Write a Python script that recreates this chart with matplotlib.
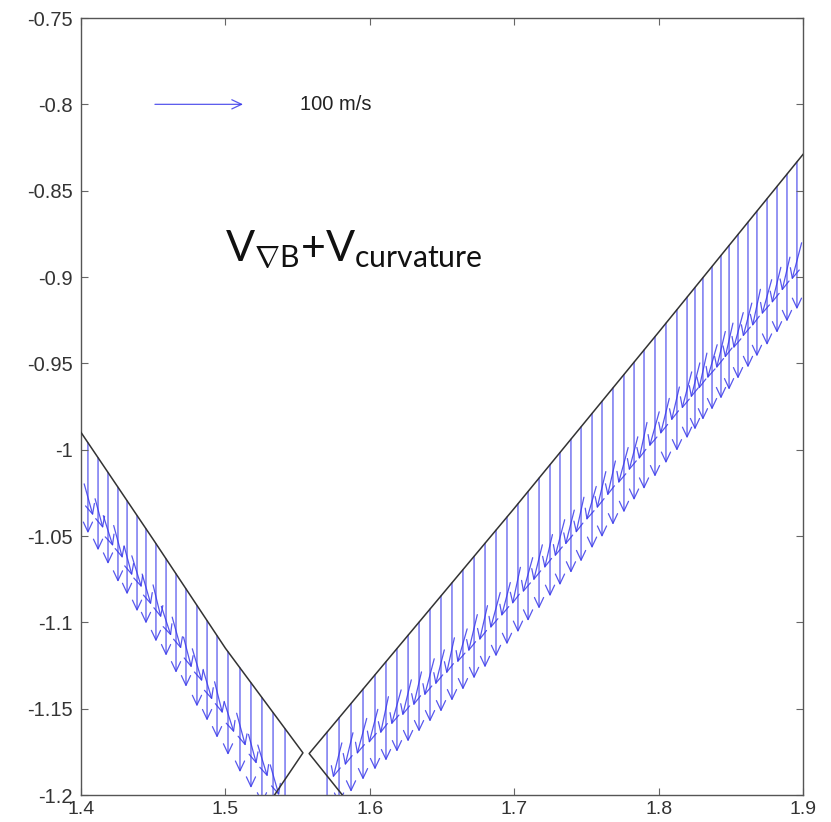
import numpy as np
import matplotlib
matplotlib.use('Agg')
import matplotlib.pyplot as plt
from matplotlib.patches import FancyArrowPatch

# ---------------- data ----------------
# separatrix legs (black line)
sep_left_x = [1.400, 1.450, 1.500, 1.5537, 1.534]
sep_left_y = [-0.990, -1.052, -1.115, -1.1756, -1.200]
sep_right_x = [1.581, 1.558, 1.700, 1.800, 1.900]
sep_right_y = [-1.200, -1.176, -1.034, -0.932, -0.829]

# drift arrows starting on the separatrix (x position, speed in m/s, pointing down)
left_x = [1.4048, 1.4118, 1.4187, 1.4256, 1.4319, 1.4388, 1.4450, 1.4519, 1.4589, 1.4658,
          1.4727, 1.4803, 1.4873, 1.4942, 1.5018, 1.5101, 1.5177, 1.5253, 1.5330, 1.5413]
left_speed = [86, 88, 87, 90, 89, 91, 90, 93, 92, 94,
              93, 96, 95, 97, 98, 99, 100, 101, 102, 103]

right_x = [1.5704, 1.5787, 1.5870, 1.5953, 1.6036, 1.6112, 1.6188, 1.6265, 1.6341, 1.6417,
           1.6493, 1.6569, 1.6645, 1.6722, 1.6798, 1.6874, 1.6950, 1.7026, 1.7096, 1.7172,
           1.7248, 1.7317, 1.7393, 1.7463, 1.7539, 1.7608, 1.7684, 1.7760, 1.7830, 1.7899,
           1.7975, 1.8051, 1.8127, 1.8197, 1.8252, 1.8307, 1.8370, 1.8432, 1.8488, 1.8550,
           1.8619, 1.8681, 1.8751, 1.8820, 1.8889, 1.8958]
right_speed = [80, 82, 84, 86, 90, 94, 98, 101, 104, 107,
               110, 112, 114, 116, 118, 120, 121, 122, 123, 124,
               125, 126, 127, 128, 128, 129, 130, 131, 131, 132,
               133, 133, 134, 134, 135, 135, 136, 136, 137, 137,
               138, 138, 139, 139, 140, 140]

# secondary (inner surface) arrows between the long ones: start depth (m/s-equivalent below
# the separatrix) and velocity components (m/s)
left_short_depth = [62, 60, 63, 61, 64, 62, 65, 63, 66, 64, 67, 65, 68, 66, 69, 67, 70, 68, 71]
left_short_u = [10, 9, 11, 10, 9, 11, 10, 9, 11, 10, 9, 11, 10, 9, 11, 10, 9, 11, 10]
left_short_v = [-30, -28, -29, -31, -28, -30, -29, -31, -28, -30, -29, -31, -28, -30, -29, -31, -28, -30, -29]

right_short_depth = [50, 52, 55, 58, 62, 66, 70, 73, 76, 78,
                     80, 82, 84, 86, 87, 88, 89, 90, 91, 92,
                     93, 94, 95, 95, 96, 96, 97, 97, 98, 98,
                     99, 99, 100, 100, 101, 101, 102, 102, 103, 103,
                     104, 104, 105, 105, 106]
right_short_u = [-10, -9, -11, -10, -9, -11, -10, -9, -11, -10,
                 -9, -11, -10, -9, -11, -10, -9, -11, -10, -9,
                 -11, -10, -9, -11, -10, -9, -11, -10, -9, -11,
                 -10, -9, -11, -10, -9, -11, -10, -9, -11, -10,
                 -9, -11, -10, -9, -11]
right_short_v = [-33, -31, -34, -32, -35, -33, -34, -32, -35, -33,
                 -34, -32, -35, -33, -34, -32, -35, -33, -34, -32,
                 -35, -33, -34, -32, -35, -33, -34, -32, -35, -33,
                 -34, -32, -35, -33, -34, -32, -35, -33, -34, -32,
                 -35, -33, -34, -32, -35]

ref_speed = 100          # m/s
ref_label = '100 m/s'
xticks = [1.4, 1.5, 1.6, 1.7, 1.8, 1.9]
xticklabels = ['1.4', '1.5', '1.6', '1.7', '1.8', '1.9']
yticks = [-1.2, -1.15, -1.1, -1.05, -1.0, -0.95, -0.9, -0.85, -0.8, -0.75]
yticklabels = ['-1.2', '-1.15', '-1.1', '-1.05', '-1', '-0.95', '-0.9', '-0.85', '-0.8', '-0.75']

# ---------------- style ----------------
SCALE = 0.061 / 100.0    # data units per m/s
ARROW_COLOR = '#3a3aea'
plt.rcParams['axes.unicode_minus'] = False
plt.rcParams['mathtext.fontset'] = 'custom'
plt.rcParams['mathtext.rm'] = 'Lato'
plt.rcParams['mathtext.it'] = 'Lato'

fig = plt.figure(figsize=(8.31, 8.22), dpi=100)
ax = fig.add_axes([81 / 831, 27 / 822, (803 - 81) / 831, (795 - 18) / 822])


def arrow(x0, y0, dx, dy, lw=0.9):
    p = FancyArrowPatch((x0, y0), (x0 + dx, y0 + dy),
                        arrowstyle='->,head_length=0.7,head_width=0.33',
                        mutation_scale=10, lw=lw, color=ARROW_COLOR,
                        shrinkA=0, shrinkB=0, alpha=0.85)
    ax.add_patch(p)


lx = np.array(left_x)
ly = np.interp(lx, sep_left_x[:4], sep_left_y[:4])
for x0, y0, s in zip(lx, ly, left_speed):
    arrow(x0, y0, 0.0, -s * SCALE)

rx = np.array(right_x)
ry = np.interp(rx, sep_right_x[1:], sep_right_y[1:])
for x0, y0, s in zip(rx, ry, right_speed):
    arrow(x0, y0, 0.0, -s * SCALE)

# secondary arrows
lmx = (lx[:-1] + lx[1:]) / 2
lmy = np.interp(lmx, sep_left_x[:4], sep_left_y[:4])
for x0, y0, d, u, v in zip(lmx, lmy, left_short_depth, left_short_u, left_short_v):
    arrow(x0 - u * SCALE, y0 - d * SCALE - v * SCALE, u * SCALE, v * SCALE)

rmx = (rx[:-1] + rx[1:]) / 2
rmy = np.interp(rmx, sep_right_x[1:], sep_right_y[1:])
for x0, y0, d, u, v in zip(rmx, rmy, right_short_depth, right_short_u, right_short_v):
    arrow(x0 - u * SCALE, y0 - d * SCALE - v * SCALE, u * SCALE, v * SCALE)

# separatrix
ax.plot(sep_left_x, sep_left_y, color='#333333', lw=1.1, zorder=5)
ax.plot(sep_right_x, sep_right_y, color='#333333', lw=1.1, zorder=5)

# reference arrow
arrow(1.4512, -0.8, ref_speed * SCALE, 0.0)
ax.text(1.5517, -0.8, ref_label, fontsize=14.5, family='Liberation Sans',
        color='#222222', va='center', ha='left')

# big label
ax.text(1.4997, -0.891, r'V$_{\nabla\mathrm{B}}$+V$_{\mathrm{curvature}}$',
        fontsize=31, family='Lato', color='#111111', va='baseline', ha='left')

ax.set_xlim(1.4, 1.9)
ax.set_ylim(-1.2, -0.75)
ax.set_xticks(xticks)
ax.set_xticklabels(xticklabels)
ax.set_yticks(yticks)
ax.set_yticklabels(yticklabels)
for lab in ax.get_yticklabels():
    lab.set_family('Liberation Sans')
    lab.set_fontsize(14.5)
    lab.set_color('#333333')
for lab in ax.get_xticklabels():
    lab.set_family('Liberation Sans')
    lab.set_fontsize(14)
    lab.set_color('#333333')
ax.tick_params(direction='in', top=True, right=True, length=5, width=0.8,
               color='#666666')
ax.tick_params(axis='y', pad=6)
ax.tick_params(axis='x', pad=4.5)
for sp in ax.spines.values():
    sp.set_color('#555555')
    sp.set_linewidth(1.0)

fig.savefig('out.png', dpi=100)
